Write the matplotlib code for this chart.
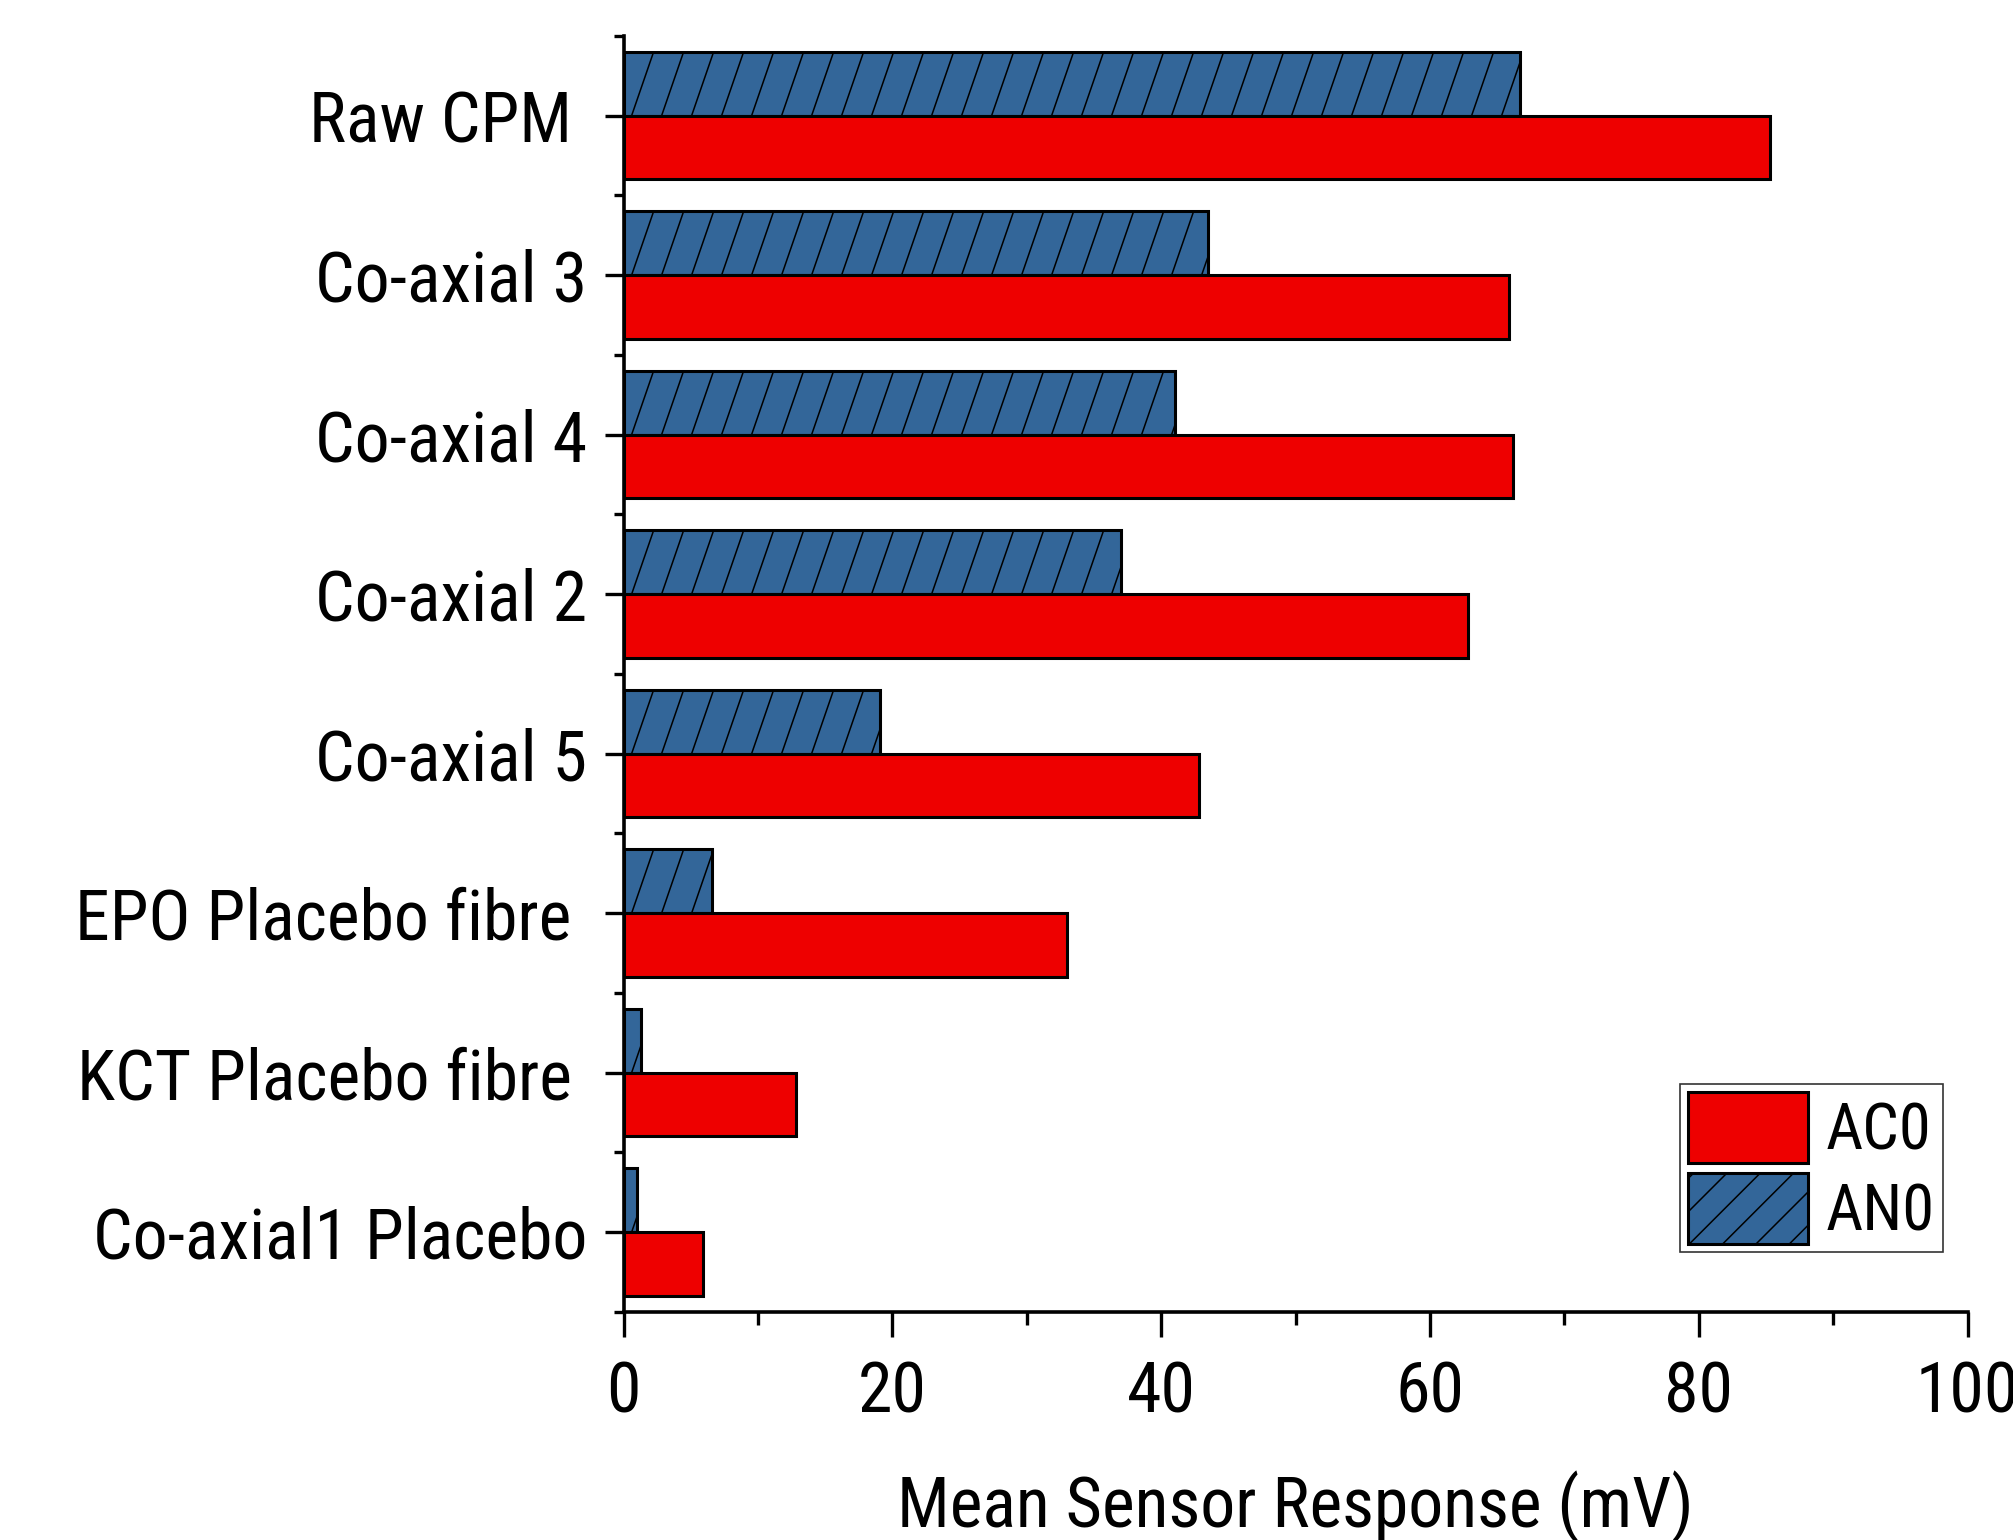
import numpy as np
import matplotlib
matplotlib.use("Agg")
import matplotlib.pyplot as plt
from matplotlib.collections import LineCollection
from matplotlib.patches import Patch
from matplotlib.font_manager import fontManager

categories = ["Raw CPM ", "Co-axial 3", "Co-axial 4", "Co-axial 2", "Co-axial 5",
              "EPO Placebo fibre ", "KCT Placebo fibre ", "Co-axial1 Placebo"]
ac0 = [85.3, 65.9, 66.2, 62.8, 42.8, 33.0, 12.8, 5.9]
an0 = [66.7, 43.5, 41.0, 37.0, 19.1, 6.6, 1.3, 1.0]
series_names = ["AC0", "AN0"]

RED = "#EE0000"
BLUE = "#336699"


def pick_font():
    # prefer a narrow sans face; fall back to the regular one
    fonts = [(f.name, str(f.stretch)) for f in fontManager.ttflist]
    names = {n for n, _ in fonts}
    for n in ("Liberation Sans Narrow", "Arial Narrow", "Roboto Condensed",
              "Open Sans Condensed", "DejaVu Sans Condensed", "Noto Sans Condensed"):
        if n in names:
            return n, "normal"
    for base in ("Liberation Sans", "Roboto", "Noto Sans", "Open Sans", "DejaVu Sans"):
        for n, s in fonts:
            if n == base and s in ("condensed", "semi-condensed", "extra-condensed",
                                   "ultra-condensed", "75", "87", "62", "50"):
                return n, "condensed"
    return "Liberation Sans", "normal"


family, stretch = pick_font()
plt.rcParams["font.family"] = [family, "DejaVu Sans"]
plt.rcParams["font.stretch"] = stretch
plt.rcParams["hatch.linewidth"] = 1.1

fig = plt.figure(figsize=(20.13, 15.4), dpi=100)
ax = fig.add_axes([0.3098, 0.1481, 0.6676, 0.8286])

# size the text so the longest category label keeps its width
renderer = fig.canvas.get_renderer()
probe = fig.text(0, 0, "Co-axial1 Placebo", fontsize=52)
w = probe.get_window_extent(renderer).width
probe.remove()
fs = min(52.0, 52.0 * 495.0 / w)
legend_fs = fs * 48.0 / 52.0

y = np.arange(len(categories))
bar_h = 0.4
blue_bars = ax.barh(y - bar_h / 2, an0, height=bar_h, color=BLUE,
                    edgecolor="black", linewidth=2.2, zorder=2)
ax.barh(y + bar_h / 2, ac0, height=bar_h, color=RED,
        edgecolor="black", linewidth=2.2, zorder=2)

ax.set_xlim(0, 100)
ax.set_ylim(len(categories) - 0.5, -0.5)

ax.set_yticks(y)
ax.set_yticklabels(categories)
ax.set_yticks(np.arange(-0.5, len(categories), 1.0), minor=True)
ax.set_xticks(np.arange(0, 101, 20))
ax.set_xticks(np.arange(10, 100, 20), minor=True)

for side in ("top", "right"):
    ax.spines[side].set_visible(False)
for side in ("left", "bottom"):
    ax.spines[side].set_linewidth(2.6)

ax.tick_params(axis="y", which="major", direction="out", length=14, width=2.4,
               pad=12, labelsize=fs)
ax.tick_params(axis="y", which="minor", direction="out", length=7, width=2.4)
ax.tick_params(axis="x", which="major", direction="out", length=18, width=2.4,
               pad=16, labelsize=fs)
ax.tick_params(axis="x", which="minor", direction="out", length=9, width=2.4)

ax.set_xlabel("Mean Sensor Response (mV)", fontsize=fs, labelpad=32)

# steep diagonal hatch on the AN0 bars, drawn as clipped line segments
fig.canvas.draw()
to_data = ax.transData.inverted()
spacing = 30.0
slope = 2.9
for bar in blue_bars:
    (x0, y0), (x1, y1) = ax.transData.transform(
        [(bar.get_x(), bar.get_y()),
         (bar.get_x() + bar.get_width(), bar.get_y() + bar.get_height())])
    top, bottom = max(y0, y1), min(y0, y1)
    left, right = min(x0, x1), max(x0, x1)
    run = (top - bottom) / slope
    segs = []
    xt = left
    while xt - run < right + spacing:
        segs.append(to_data.transform([(xt, top), (xt - run, bottom)]))
        xt += spacing
    lc = LineCollection(segs, colors="black", linewidths=1.1, zorder=2.5)
    ax.add_collection(lc, autolim=False)
    lc.set_clip_path(bar)

handles = [Patch(facecolor=RED, edgecolor="black", linewidth=2.2),
           Patch(facecolor=BLUE, edgecolor="black", linewidth=2.2, hatch="/")]
leg = ax.legend(handles, series_names, loc="upper right",
                bbox_to_anchor=(0.9652, 0.2961), bbox_transform=fig.transFigure,
                fontsize=legend_fs, frameon=True, fancybox=False, handlelength=1.86,
                handleheight=1.31, handletextpad=0.27, borderpad=0.13,
                labelspacing=0.16, borderaxespad=0)
leg.get_frame().set_edgecolor("black")
leg.get_frame().set_linewidth(1.2)

fig.savefig("out.png", dpi=100)
